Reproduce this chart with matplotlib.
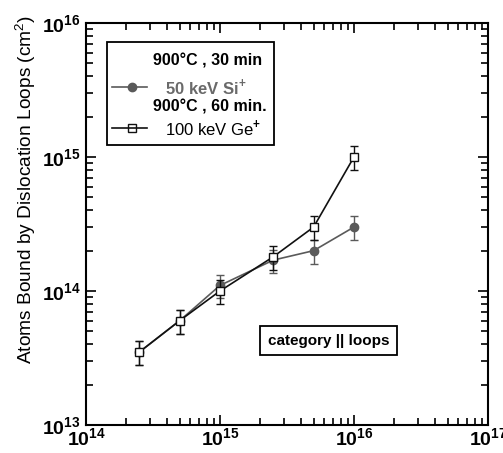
import numpy as np
import matplotlib
matplotlib.use("Agg")
import matplotlib.pyplot as plt
from matplotlib.patches import Rectangle
from matplotlib.lines import Line2D

plt.rcParams["font.family"] = ["Liberation Sans", "DejaVu Sans"]
plt.rcParams["mathtext.fontset"] = "custom"
plt.rcParams["mathtext.rm"] = "Liberation Sans:bold"
plt.rcParams["mathtext.bf"] = "Liberation Sans:bold"

# dose (cm^-2) vs atoms bound by loops
dose = [2.5e14, 5e14, 1e15, 2.5e15, 5e15, 1e16]
si_atoms = [3.5e13, 6e13, 1.1e14, 1.7e14, 2.0e14, 3.0e14]
ge_atoms = [3.5e13, 6e13, 1.0e14, 1.8e14, 3.0e14, 1.0e15]
rel_err = 0.2

si_col = "#5a5a5a"
ge_col = "#111111"

fig = plt.figure(figsize=(5.03, 4.53), dpi=100)
ax = fig.add_axes([0.171, 0.062, 0.799, 0.887])

ax.errorbar(dose, si_atoms, yerr=rel_err * np.array(si_atoms), color=si_col,
            marker="o", ms=6, lw=1.2, capsize=3, elinewidth=1, zorder=3)
ax.errorbar(dose, ge_atoms, yerr=rel_err * np.array(ge_atoms), color=ge_col,
            marker="s", ms=6, mfc="white", mec=ge_col, lw=1.2, capsize=3,
            elinewidth=1, zorder=4)

ax.set_xscale("log")
ax.set_yscale("log")
ax.set_xlim(1e14, 1e17)
ax.set_ylim(1e13, 1e16)

for s in ax.spines.values():
    s.set_linewidth(1.5)
ax.tick_params(which="both", direction="in", top=True, right=True, width=1.2)
ax.tick_params(which="major", length=7, labelsize=14)
ax.tick_params(which="minor", length=5)
ax.tick_params(axis="x", which="major", pad=2)
ax.tick_params(axis="y", which="major", pad=4)

ax.set_ylabel("Atoms Bound by Dislocation Loops (cm$^\\mathregular{2}$)", fontsize=13.8)
ax.yaxis.set_label_coords(-0.12, 0.585)

# legend box drawn by hand
ax.add_patch(Rectangle((0.052, 0.697), 0.416, 0.256, transform=ax.transAxes,
                       fill=False, lw=1.3, ec="black", zorder=5))
ax.text(0.167, 0.906, "900°C , 30 min", transform=ax.transAxes, fontsize=11.5,
        fontweight="bold", va="center", color="black")
ax.add_line(Line2D([0.065, 0.152], [0.841, 0.841], transform=ax.transAxes,
                   color=si_col, lw=1.2, marker="", zorder=5))
ax.plot([0.114], [0.841], transform=ax.transAxes, marker="o", ms=6, color=si_col)
ax.text(0.197, 0.841, r"50 keV Si$^\mathbf{+}$", transform=ax.transAxes,
        fontsize=12, fontweight="bold", va="center", color="#6a6a6a")
ax.text(0.167, 0.791, "900°C , 60 min.", transform=ax.transAxes, fontsize=11.5,
        fontweight="bold", va="center", color="black")
ax.add_line(Line2D([0.065, 0.152], [0.739, 0.739], transform=ax.transAxes,
                   color=ge_col, lw=1.2, zorder=5))
ax.plot([0.114], [0.739], transform=ax.transAxes, marker="s", ms=6,
        mfc="white", mec=ge_col)
ax.text(0.197, 0.739, r"100 keV Ge$^{+}$", transform=ax.transAxes,
        fontsize=12, va="center", color="black")

ax.text(0.603, 0.21, "category || loops", transform=ax.transAxes, fontsize=11,
        fontweight="bold", ha="center", va="center",
        bbox=dict(boxstyle="square,pad=0.5", fc="white", ec="black", lw=1.3))

for lab in ax.get_xticklabels() + ax.get_yticklabels():
    lab.set_fontweight("bold")

fig.savefig("out.png", dpi=100)
